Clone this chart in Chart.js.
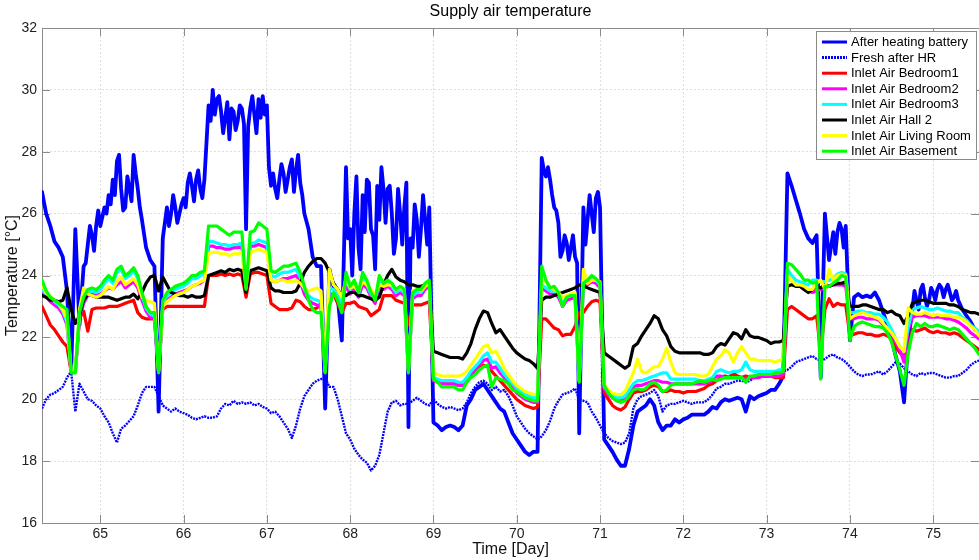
<!DOCTYPE html>
<html>
<head>
<meta charset="utf-8">
<script src="https://cdn.jsdelivr.net/npm/chart.js@4/dist/chart.umd.min.js"></script>
<style>
  html, body { margin: 0; padding: 0; background: #fff; }
  #wrap { width: 979px; height: 560px; }
</style>
</head>
<body>
<div id="wrap"><canvas id="c" width="979" height="560"></canvas></div>
<script>
// Sample times in days, every 0.05 day from 64.30 to 75.55
const days = Array.from({ length: 226 }, (_, i) => +(64.3 + i * 0.05).toFixed(2));

// Supply air temperatures [°C] at each sample time
const afterHeatingBattery = [
  26.7, 26.0, 25.6, 25.1, 24.9, 24.6, 23.5, 20.9, 25.5, 22.4, 24.3, 25.0, 25.3, 25.6,
  25.6, 26.2, 26.6, 27.1, 27.7, 26.8, 26.2, 26.8, 27.9, 26.8, 25.8, 24.9, 24.5, 24.3, 19.6, 25.2, 26.2, 26.0, 26.2, 26.0,
  26.5, 27.0, 26.9, 27.1, 26.8, 27.1, 29.5, 30.0, 29.7, 29.3, 29.1, 28.4, 29.3, 29.0, 29.4, 25.5, 29.4, 29.2, 29.7, 29.8,
  29.5, 26.9, 26.8, 27.1, 27.3, 27.1, 27.75, 27.4, 27.0, 26.0, 25.5, 24.6, 24.3, 24.3, 19.7, 24.2, 23.65, 23.3, 21.9, 27.5,
  25.5, 26.0, 24.9, 26.6, 27.1, 25.5, 24.2, 25.8, 26.8, 26.8, 26.0, 25.2, 26.0, 26.2, 19.1, 24.9, 25.8, 25.5, 25.8, 26.2,
  19.25, 19.15, 19.0, 19.1, 19.15, 19.1, 19.0, 19.15, 19.8, 20.0, 20.3, 20.4, 20.5, 20.3, 20.1, 19.9, 19.7, 19.6, 19.25, 18.9,
  18.7, 18.5, 18.3, 18.2, 18.3, 18.3, 27.8, 27.2, 27.1, 26.2, 25.7, 24.8, 25.05, 24.9, 24.6, 18.9, 26.2, 25.8, 26.0, 26.5,
  26.2, 18.7, 18.5, 18.3, 18.05, 17.85, 17.85, 18.4, 19.15, 19.6, 19.7, 19.8, 20.0, 19.8, 19.25, 19.0, 19.15, 19.15, 19.35, 19.25,
  19.35, 19.4, 19.5, 19.5, 19.5, 19.5, 19.6, 19.75, 19.7, 19.9, 20.0, 19.95, 20.0, 20.05, 20.0, 19.6, 20.1, 20.0, 20.1, 20.15,
  20.2, 20.3, 20.3, 20.5, 20.75, 27.3, 26.9, 26.45, 26.0, 25.5, 25.2, 25.05, 25.3, 20.7, 26.0, 24.5, 25.4, 25.4, 25.5, 25.6,
  21.9, 23.3, 23.4, 23.3, 23.35, 23.3, 23.45, 23.2, 22.8, 22.4, 21.95, 21.4, 20.9, 19.9, 21.9, 22.9, 23.2, 23.55, 23.3, 23.2,
  23.45, 23.55, 23.6, 23.55, 23.45, 23.3, 23.2, 22.9, 22.7, 22.5, 22.25, 22.15
];

// Extra readings of the heating-battery temperature where it fluctuates quickly
const batteryExtraDays = [
  64.825, 64.875, 64.925, 64.975,
  65.025, 65.075, 65.125, 65.175, 65.225, 65.275, 65.325, 65.375, 65.425, 65.475,
  65.825, 65.875, 65.925, 65.975, 66.025, 66.075, 66.125, 66.175, 66.225,
  66.325, 66.375, 66.425, 66.475, 66.525, 66.575, 66.625, 66.675, 66.725, 66.775, 66.825, 66.875, 66.925, 66.975,
  67.025, 67.075, 67.125, 67.175, 67.225, 67.275, 67.325, 67.375, 67.425,
  67.975, 68.025, 68.075, 68.125, 68.175, 68.225, 68.275, 68.325,
  68.375, 68.425, 68.475, 68.525, 68.575, 68.625, 68.675, 68.725, 68.775, 68.825, 68.875, 68.925,
  70.325, 70.375, 70.425, 70.475, 70.525, 70.575, 70.625, 70.675, 70.725, 70.825, 70.875, 70.925, 70.975,
  73.825, 73.875, 73.925,
  74.775, 74.825, 74.875, 74.925, 74.975, 75.025, 75.075, 75.125, 75.175, 75.225, 75.275
];
const batteryExtraTemps = [
  24.4, 25.6, 24.8, 26.1,
  25.9, 26.0, 26.3, 26.6, 27.9, 26.1, 27.2, 26.4, 27.3, 26.2,
  25.6, 26.6, 25.7, 26.3, 26.2, 27.3, 26.4, 27.4, 26.5,
  29.0, 29.2, 29.8, 28.6, 29.6, 29.4, 28.7, 29.5, 28.9, 28.8, 29.8, 28.6, 29.1, 29.2,
  27.5, 27.3, 26.5, 27.6, 26.7, 27.5, 26.7, 27.9, 26.6,
  25.2, 24.0, 27.2, 24.2, 25.4, 27.0, 25.3, 26.9,
  27.5, 25.7, 26.9, 24.7, 26.8, 25.0, 27.0, 25.2, 26.3, 24.6, 26.6, 25.0,
  27.4, 27.5, 26.6, 26.1, 24.6, 25.3, 24.5, 25.3, 24.4, 25.0, 26.6, 25.4, 26.7,
  24.7, 25.7, 24.9,
  23.5, 22.9, 23.7, 23.0, 23.6, 23.2, 23.7, 23.3, 23.7, 23.2, 23.5
];

const freshAfterHR = [
  19.7, 20.0, 20.15, 20.2, 20.3, 20.4, 20.7, 20.9, 19.6, 20.5, 20.25, 20.0, 19.95, 19.8,
  19.7, 19.45, 19.25, 18.9, 18.6, 19.05, 19.15, 19.3, 19.45, 19.8, 20.2, 20.4, 20.4, 20.4, 20.1, 19.8, 19.7, 19.6, 19.7, 19.6,
  19.55, 19.5, 19.4, 19.35, 19.4, 19.45, 19.4, 19.4, 19.45, 19.7, 19.85, 19.8, 19.95, 19.85, 19.9, 19.85, 19.9, 19.8, 19.85, 19.75,
  19.7, 19.55, 19.6, 19.45, 19.25, 19.05, 18.75, 19.15, 19.7, 20.1, 20.3, 20.5, 20.6, 20.65, 20.7, 20.4, 20.4, 20.0, 19.45, 18.9,
  18.7, 18.4, 18.2, 18.05, 17.95, 17.7, 17.85, 18.2, 18.9, 19.6, 19.9, 19.95, 19.8, 19.85, 19.85, 19.95, 20.05, 19.95, 19.85, 19.8,
  20.0, 19.85, 19.75, 19.7, 19.75, 19.7, 19.65, 19.7, 19.9, 20.2, 20.4, 20.55, 20.6, 20.5, 20.3, 20.4, 20.25, 20.3, 20.1, 19.8,
  19.45, 19.25, 19.05, 18.9, 18.8, 18.7, 18.8, 19.0, 19.3, 19.7, 19.95, 20.15, 20.2, 20.25, 20.35, 20.0, 19.95, 19.9, 19.6, 19.4,
  19.15, 18.9, 18.75, 18.65, 18.6, 18.55, 18.6, 18.9, 19.7, 20.0, 20.1, 20.15, 20.2, 20.3, 20.1, 19.6, 19.8, 19.85, 19.85, 19.9,
  19.95, 19.9, 19.85, 19.9, 19.9, 19.9, 20.0, 20.15, 20.35, 20.4, 20.5, 20.5, 20.55, 20.6, 20.6, 20.55, 20.6, 20.7, 20.7, 20.75,
  20.75, 20.8, 20.85, 20.85, 20.9, 20.95, 21.05, 21.2, 21.25, 21.3, 21.35, 21.4, 21.3, 21.25, 21.3, 21.4, 21.45, 21.35, 21.3, 21.2,
  21.05, 20.9, 20.8, 20.75, 20.8, 20.8, 20.85, 20.9, 20.8, 20.9, 21.05, 21.2, 21.15, 21.0, 20.9, 20.8, 20.75, 20.85, 20.8, 20.85,
  20.85, 20.8, 20.75, 20.7, 20.7, 20.75, 20.75, 20.85, 20.95, 21.1, 21.2, 21.25
];

const bedroom1 = [
  23.0, 22.7, 22.4, 22.25, 22.05, 21.85, 21.7, 20.9, 20.9, 22.6, 22.85, 22.2, 22.9, 22.95,
  22.95, 22.95, 23.0, 23.0, 23.0, 23.05, 23.1, 23.15, 23.2, 22.8, 22.65, 22.6, 22.6, 22.6, 20.9, 22.9, 23.0, 23.0, 23.0, 23.0,
  23.0, 23.0, 23.0, 23.0, 23.0, 23.0, 24.0, 24.0, 24.0, 24.05, 24.0, 24.05, 24.0, 24.05, 24.0, 23.3, 24.05, 24.1, 24.1, 24.05,
  24.0, 23.1, 23.0, 22.9, 22.9, 22.9, 22.95, 23.2, 23.15, 23.0, 22.9, 22.9, 22.95, 23.1, 20.9, 23.3, 23.4, 23.1, 22.8, 23.1,
  23.1, 23.15, 23.0, 22.95, 22.9, 22.7, 22.8, 22.9, 23.35, 23.35, 23.35, 23.2, 23.15, 23.1, 22.4, 23.05, 23.05, 23.05, 23.1, 23.15,
  20.6, 20.6, 20.55, 20.5, 20.5, 20.5, 20.45, 20.5, 20.6, 20.75, 20.9, 21.0, 21.1, 21.05, 20.9, 20.75, 20.6, 20.45, 20.3, 20.15,
  20.0, 19.9, 19.8, 19.75, 19.7, 19.75, 22.6, 22.6, 22.45, 22.3, 22.25, 22.05, 22.1, 22.1, 22.35, 22.8, 22.8, 23.0, 23.15, 23.2,
  23.15, 20.2, 20.0, 19.8, 19.7, 19.65, 19.75, 20.0, 20.2, 20.25, 20.25, 20.3, 20.4, 20.45, 20.4, 20.25, 20.25, 20.3, 20.25, 20.25,
  20.2, 20.25, 20.25, 20.25, 20.3, 20.35, 20.45, 20.5, 20.6, 20.7, 20.75, 20.7, 20.85, 20.75, 20.7, 20.75, 20.7, 20.75, 20.7, 20.75,
  20.75, 20.75, 20.7, 20.7, 20.7, 22.9, 23.0, 22.9, 22.8, 22.7, 22.6, 22.6, 22.7, 21.5, 22.9, 23.25, 23.0, 23.1, 23.05, 23.05,
  22.05, 22.1, 22.15, 22.15, 22.1, 22.1, 22.05, 22.05, 22.1, 22.05, 21.95, 21.7, 21.5, 21.4, 21.6, 22.25, 22.2, 22.25, 22.3, 22.2,
  22.15, 22.2, 22.15, 22.15, 22.1, 22.15, 22.1, 22.0, 21.9, 21.8, 21.7, 21.6
];

const bedroom2 = [
  23.45, 23.3, 23.15, 23.05, 22.95, 22.75, 22.4, 20.9, 20.9, 22.6, 23.1, 23.35, 23.4, 23.35,
  23.4, 23.5, 23.6, 23.55, 23.7, 23.8, 23.6, 23.7, 23.8, 23.6, 23.2, 22.85, 22.65, 22.6, 20.9, 23.0, 23.2, 23.3, 23.4, 23.45,
  23.5, 23.55, 23.65, 23.7, 23.75, 23.85, 24.95, 24.95, 24.9, 24.9, 24.85, 24.85, 24.9, 24.9, 24.95, 23.5, 24.95, 24.95, 25.0, 24.95,
  24.9, 23.85, 23.8, 23.85, 23.9, 23.9, 23.95, 24.0, 23.8, 23.4, 23.2, 23.1, 23.05, 23.0, 20.9, 23.4, 23.4, 23.3, 23.0, 23.7,
  23.4, 23.55, 23.3, 23.7, 23.6, 23.3, 23.1, 23.7, 23.55, 23.65, 23.55, 23.35, 23.45, 23.35, 20.9, 23.25, 23.35, 23.35, 23.55, 23.65,
  20.6, 20.55, 20.5, 20.5, 20.5, 20.5, 20.45, 20.45, 20.6, 20.8, 20.95, 21.1, 21.25, 21.3, 21.0, 21.05, 20.85, 20.7, 20.55, 20.4,
  20.2, 20.1, 20.0, 19.95, 19.9, 19.9, 23.6, 23.5, 23.4, 23.4, 23.3, 23.0, 23.2, 23.25, 23.3, 20.6, 23.7, 23.7, 23.8, 23.75,
  23.6, 20.35, 20.15, 20.05, 19.95, 19.95, 20.0, 20.2, 20.4, 20.45, 20.45, 20.5, 20.55, 20.6, 20.6, 20.55, 20.55, 20.5, 20.5, 20.5,
  20.5, 20.5, 20.5, 20.5, 20.5, 20.5, 20.55, 20.6, 20.75, 20.75, 20.7, 20.7, 20.7, 20.7, 20.7, 20.65, 20.7, 20.7, 20.7, 20.75,
  20.75, 20.75, 20.75, 20.75, 20.8, 24.0, 23.85, 23.7, 23.65, 23.55, 23.5, 23.45, 23.5, 23.55, 23.6, 23.65, 23.7, 23.7, 23.7, 23.65,
  22.6, 22.6, 22.65, 22.65, 22.6, 22.6, 22.6, 22.55, 22.4, 22.3, 22.1, 21.85, 21.6, 21.2, 22.25, 22.65, 22.7, 22.7, 22.7, 22.65,
  22.65, 22.65, 22.65, 22.6, 22.6, 22.55, 22.5, 22.4, 22.3, 22.15, 22.05, 21.95
];

const bedroom3 = [
  23.55, 23.4, 23.25, 23.15, 23.05, 22.85, 22.5, 20.9, 20.9, 22.7, 23.2, 23.45, 23.5, 23.45,
  23.55, 23.75, 23.9, 23.75, 24.1, 24.2, 23.9, 24.0, 24.15, 23.9, 23.35, 22.95, 22.75, 22.7, 20.9, 23.1, 23.35, 23.45, 23.55, 23.6,
  23.65, 23.75, 23.9, 23.9, 24.0, 24.05, 25.1, 25.1, 25.05, 25.0, 25.0, 24.95, 25.0, 25.0, 25.05, 23.55, 25.05, 25.05, 25.15, 25.1,
  25.05, 24.0, 23.95, 24.05, 24.1, 24.1, 24.15, 24.2, 23.95, 23.55, 23.35, 23.25, 23.2, 23.15, 20.9, 23.6, 23.55, 23.4, 23.1, 23.9,
  23.55, 23.7, 23.4, 23.9, 23.7, 23.4, 23.2, 23.8, 23.65, 23.75, 23.65, 23.45, 23.55, 23.45, 20.9, 23.35, 23.45, 23.45, 23.65, 23.75,
  20.7, 20.65, 20.6, 20.6, 20.6, 20.6, 20.55, 20.55, 20.7, 20.9, 21.05, 21.2, 21.4, 21.5, 21.2, 21.2, 21.0, 20.8, 20.65, 20.5,
  20.35, 20.25, 20.15, 20.1, 20.05, 20.05, 23.7, 23.6, 23.5, 23.5, 23.4, 23.1, 23.3, 23.35, 23.4, 20.6, 23.85, 23.8, 23.9, 23.85,
  23.7, 20.4, 20.25, 20.15, 20.05, 20.05, 20.1, 20.3, 20.5, 20.6, 20.6, 20.65, 20.7, 20.75, 20.8, 20.85, 20.85, 20.65, 20.65, 20.65,
  20.65, 20.65, 20.65, 20.65, 20.6, 20.6, 20.65, 20.7, 20.9, 20.95, 20.9, 20.85, 20.9, 20.9, 20.95, 21.2, 20.95, 20.9, 20.9, 20.9,
  20.9, 20.9, 20.9, 20.95, 20.95, 24.2, 24.0, 23.85, 23.8, 23.75, 23.7, 23.85, 23.85, 23.8, 23.8, 23.85, 23.9, 24.05, 24.1, 24.05,
  22.8, 22.8, 22.85, 22.85, 22.8, 22.8, 22.75, 22.75, 22.65, 22.5, 22.25, 21.95, 21.7, 21.55, 22.35, 22.9, 22.95, 23.0, 22.95, 22.9,
  22.9, 22.95, 22.9, 22.85, 22.85, 22.8, 22.8, 22.65, 22.55, 22.4, 22.3, 22.2
];

const hall2 = [
  23.35, 23.3, 23.2, 23.2, 23.15, 23.2, 23.6, 22.9, 22.45, 22.7, 23.2, 23.4, 23.35, 23.3,
  23.3, 23.3, 23.3, 23.25, 23.2, 23.25, 23.3, 23.3, 23.4, 23.25, 23.45, 23.75, 23.95, 24.0, 23.5, 23.95, 23.7, 23.45, 23.4, 23.35,
  23.35, 23.3, 23.35, 23.3, 23.3, 23.35, 24.0, 24.05, 24.1, 24.15, 24.1, 24.2, 24.15, 24.2, 24.15, 23.45, 24.15, 24.2, 24.25, 24.2,
  24.15, 23.6, 23.5, 23.5, 23.45, 23.45, 23.45, 23.5, 23.75, 24.1, 24.3, 24.45, 24.55, 24.55, 24.4, 24.1, 23.75, 23.55, 23.35, 23.35,
  23.45, 23.45, 23.35, 23.35, 23.3, 23.25, 23.2, 23.3, 23.7, 24.0, 24.2, 23.95, 23.85, 23.8, 23.7, 23.7, 23.65, 23.65, 23.7, 23.75,
  21.55, 21.5, 21.45, 21.4, 21.35, 21.35, 21.35, 21.3, 21.5, 21.8, 22.25, 22.6, 22.85, 22.8, 22.45, 22.15, 22.25, 22.05, 21.85, 21.65,
  21.5, 21.4, 21.3, 21.25, 21.15, 21.0, 23.2, 23.3, 23.3, 23.35, 23.4, 23.45, 23.5, 23.55, 23.6, 23.7, 23.65, 23.6, 23.55, 23.5,
  23.45, 21.5, 21.4, 21.3, 21.2, 21.1, 21.0, 21.1, 21.7, 21.8, 22.05, 22.25, 22.45, 22.7, 22.6, 22.25, 22.05, 21.7, 21.55, 21.5,
  21.5, 21.5, 21.5, 21.5, 21.5, 21.45, 21.45, 21.5, 21.7, 21.8, 21.75, 21.95, 22.15, 22.1, 21.95, 22.25, 22.05, 22.0, 22.0, 21.95,
  21.9, 21.8, 21.85, 21.85, 21.9, 23.65, 23.7, 23.65, 23.65, 23.55, 23.45, 23.55, 23.65, 23.6, 23.7, 23.65, 23.7, 23.75, 23.75, 23.8,
  23.0, 23.0, 23.0, 23.05, 23.05, 23.0, 22.95, 22.9, 22.9, 22.8, 22.85, 22.75, 22.7, 22.45, 22.7, 23.1, 23.15, 23.2, 23.2, 23.15,
  23.1, 23.1, 23.1, 23.1, 23.05, 23.05, 23.0, 22.9, 22.85, 22.8, 22.8, 22.75
];

const livingRoom = [
  23.7, 23.45, 23.3, 23.2, 23.1, 22.9, 22.6, 20.9, 20.9, 22.9, 23.6, 23.4, 23.35, 23.3,
  23.35, 23.5, 23.65, 23.55, 23.8, 23.95, 23.7, 23.8, 23.9, 23.7, 23.3, 23.2, 23.15, 23.1, 20.9, 23.0, 23.15, 23.25, 23.35, 23.4,
  23.45, 23.55, 23.65, 23.7, 23.8, 23.85, 24.7, 24.75, 24.75, 24.7, 24.7, 24.65, 24.7, 24.7, 24.75, 23.6, 24.75, 24.8, 24.85, 24.8,
  24.75, 23.85, 23.8, 23.85, 23.85, 23.8, 23.8, 23.85, 23.75, 23.6, 23.5, 23.55, 23.6, 23.5, 20.9, 24.2, 23.7, 23.55, 23.3, 23.9,
  23.6, 23.65, 23.5, 23.8, 23.7, 23.55, 23.4, 23.7, 23.65, 23.7, 23.7, 23.55, 23.6, 23.55, 20.9, 23.5, 23.55, 23.5, 23.65, 23.75,
  20.85, 20.8, 20.75, 20.75, 20.75, 20.75, 20.75, 20.8, 20.9, 21.1, 21.3, 21.5, 21.7, 21.75, 21.5, 21.55, 21.3, 21.0, 20.8, 20.6,
  20.45, 20.35, 20.25, 20.2, 20.15, 20.15, 23.9, 23.8, 23.6, 23.55, 23.45, 23.3, 23.35, 23.4, 23.45, 20.6, 24.2, 23.75, 23.85, 23.85,
  23.8, 20.5, 20.3, 20.2, 20.15, 20.15, 20.25, 20.55, 20.85, 21.3, 20.9, 20.85, 20.95, 21.05, 21.05, 21.3, 21.65, 21.2, 20.85, 20.8,
  20.8, 20.8, 20.8, 20.8, 20.75, 20.75, 20.8, 21.05, 21.3, 21.4, 21.6, 21.5, 21.2, 21.5, 21.7, 21.5, 21.3, 21.3, 21.25, 21.25,
  21.25, 21.25, 21.2, 21.25, 21.3, 24.0, 23.85, 23.7, 23.7, 23.65, 23.55, 23.55, 23.75, 23.85, 23.55, 24.2, 23.85, 24.0, 24.05, 24.0,
  22.6, 22.7, 22.75, 22.8, 22.75, 22.7, 22.65, 22.6, 22.45, 22.3, 22.15, 21.95, 21.7, 21.55, 22.95, 22.8, 22.75, 22.75, 22.8, 22.75,
  22.7, 22.75, 22.7, 22.7, 22.7, 22.65, 22.65, 22.6, 22.5, 22.35, 22.25, 22.05
];

const basement = [
  23.85, 23.5, 23.3, 23.2, 23.1, 23.0, 22.9, 20.85, 20.85, 22.8, 23.3, 23.55, 23.6, 23.55,
  23.65, 23.85, 24.0, 23.85, 24.2, 24.3, 24.0, 24.1, 24.25, 24.0, 23.45, 23.0, 22.8, 22.8, 20.85, 23.2, 23.45, 23.55, 23.65, 23.7,
  23.75, 23.85, 24.0, 24.0, 24.1, 24.15, 25.6, 25.6, 25.6, 25.5, 25.4, 25.3, 25.4, 25.4, 25.4, 23.55, 25.4, 25.45, 25.7, 25.6,
  25.5, 24.15, 24.1, 24.2, 24.3, 24.3, 24.35, 24.4, 24.1, 23.65, 23.2, 22.9, 22.8, 22.8, 20.85, 23.0, 23.45, 23.2, 22.8, 24.1,
  23.65, 23.85, 23.45, 24.1, 23.85, 23.45, 23.2, 24.0, 23.75, 23.85, 23.75, 23.55, 23.65, 23.55, 20.85, 23.45, 23.55, 23.55, 23.75, 23.85,
  20.65, 20.55, 20.4, 20.4, 20.4, 20.4, 20.3, 20.3, 20.55, 20.7, 20.8, 20.95, 21.05, 21.1, 20.4, 20.7, 20.65, 20.6, 20.5, 20.3,
  20.25, 20.15, 20.05, 20.0, 19.95, 19.95, 24.3, 23.85, 23.6, 23.65, 23.45, 23.0, 23.3, 23.35, 23.35, 20.55, 23.75, 23.85, 24.0, 23.9,
  23.75, 20.45, 20.2, 20.05, 19.95, 19.9, 19.95, 20.1, 20.3, 20.35, 20.3, 20.35, 20.5, 20.55, 20.45, 20.25, 20.3, 20.45, 20.5, 20.5,
  20.5, 20.5, 20.5, 20.55, 20.6, 20.55, 20.6, 20.65, 20.6, 20.65, 20.7, 20.7, 20.7, 20.7, 20.7, 20.55, 20.75, 20.75, 20.8, 20.8,
  20.8, 20.8, 20.85, 20.85, 20.9, 24.4, 24.35, 24.2, 24.05, 23.85, 23.85, 23.75, 23.8, 20.65, 23.65, 23.65, 23.75, 23.85, 24.0, 23.95,
  21.9, 22.35, 22.45, 22.5, 22.45, 22.4, 22.35, 22.35, 22.3, 22.15, 21.85, 21.4, 20.95, 20.45, 21.5, 22.15, 22.45, 22.35, 22.45, 22.35,
  22.35, 22.4, 22.35, 22.3, 22.25, 22.3, 22.25, 22.1, 21.95, 21.8, 21.65, 21.45
];

// Axis tick values
const dayTicks = [65, 66, 67, 68, 69, 70, 71, 72, 73, 74, 75];
const tempTicks = [16, 18, 20, 22, 24, 26, 28, 30, 32];

const FONT = "'Liberation Sans', Arial, Helvetica, sans-serif";

const toPoints = (xs, ys) => xs.map((d, k) => ({ x: d, y: ys[k] }));

const batteryPoints = toPoints(days, afterHeatingBattery)
  .concat(toPoints(batteryExtraDays, batteryExtraTemps))
  .sort((a, b) => a.x - b.x);

const seriesDefs = [
  { label: 'After heating battery', points: batteryPoints,                  color: '#0000ff', width: 3.8, dash: [] },
  { label: 'Fresh after HR',        points: toPoints(days, freshAfterHR),   color: '#0000ff', width: 2.4, dash: [2, 1] },
  { label: 'Inlet Air Bedroom1',    points: toPoints(days, bedroom1),       color: '#ff0000', width: 3.2, dash: [] },
  { label: 'Inlet Air Bedroom2',    points: toPoints(days, bedroom2),       color: '#ff00ff', width: 3.2, dash: [] },
  { label: 'Inlet Air Bedroom3',    points: toPoints(days, bedroom3),       color: '#00ffff', width: 3.2, dash: [] },
  { label: 'Inlet Air Hall 2',      points: toPoints(days, hall2),          color: '#000000', width: 3.2, dash: [] },
  { label: 'Inlet Air Living Room', points: toPoints(days, livingRoom),     color: '#ffff00', width: 3.2, dash: [] },
  { label: 'Inlet Air Basement',    points: toPoints(days, basement),       color: '#00ff00', width: 3.2, dash: [] }
];

const datasets = seriesDefs.map((s, i) => ({
  label: s.label,
  data: s.points,
  borderColor: s.color,
  backgroundColor: s.color,
  borderWidth: s.width,
  borderDash: s.dash,
  borderJoinStyle: 'round',
  borderCapStyle: s.dash.length ? 'butt' : 'round',
  pointRadius: 0,
  fill: false,
  tension: 0,
  // later series are painted over earlier ones
  order: seriesDefs.length - i
}));

// Box around the plot area with inward tick marks, plus the centred title
const framePlugin = {
  id: 'frame',
  beforeDatasetsDraw(chart) {
    const { ctx, chartArea: a, scales: { x, y } } = chart;
    ctx.save();
    ctx.strokeStyle = '#8a8a8a';
    ctx.lineWidth = 1;
    ctx.beginPath();
    ctx.moveTo(a.left + 0.5, a.bottom + 0.5);
    ctx.lineTo(a.left + 0.5, a.top + 0.5);
    ctx.lineTo(a.right + 0.5, a.top + 0.5);
    ctx.moveTo(a.left + 0.5, a.bottom + 0.5);
    ctx.lineTo(a.right + 0.5, a.bottom + 0.5);
    ctx.lineTo(a.right + 0.5, a.top + 0.5);
    const tl = 8;
    dayTicks.forEach(v => {
      const px = Math.round(x.getPixelForValue(v)) + 0.5;
      ctx.moveTo(px, a.bottom); ctx.lineTo(px, a.bottom - tl);
      ctx.moveTo(px, a.top); ctx.lineTo(px, a.top + tl);
    });
    tempTicks.forEach(v => {
      const py = Math.round(y.getPixelForValue(v)) + 0.5;
      ctx.moveTo(a.left, py); ctx.lineTo(a.left + tl, py);
      ctx.moveTo(a.right, py); ctx.lineTo(a.right - tl, py);
    });
    ctx.stroke();
    ctx.restore();
  },
  afterDraw(chart) {
    const { ctx, chartArea: a } = chart;
    ctx.save();
    ctx.fillStyle = '#000';
    ctx.font = '16px ' + FONT;
    ctx.textAlign = 'center';
    ctx.textBaseline = 'middle';
    ctx.fillText('Supply air temperature', (a.left + a.right) / 2, 12);
    ctx.restore();
  }
};

// Legend box in the upper right corner of the plot area
const legendPlugin = {
  id: 'cornerLegend',
  afterDraw(chart) {
    const { ctx, chartArea: a } = chart;
    const w = 160, rowH = 15.6, padTop = 11, h = 128;
    const x0 = a.right - 3 - w, y0 = a.top + 3;
    ctx.save();
    ctx.fillStyle = '#fff';
    ctx.fillRect(x0, y0, w, h);
    ctx.strokeStyle = '#8a8a8a';
    ctx.lineWidth = 1;
    ctx.strokeRect(Math.round(x0) + 0.5, Math.round(y0) + 0.5, w, h);
    ctx.font = '13px ' + FONT;
    ctx.textBaseline = 'middle';
    ctx.textAlign = 'left';
    chart.data.datasets.forEach((ds, i) => {
      const yy = y0 + padTop + i * rowH;
      ctx.beginPath();
      ctx.strokeStyle = ds.borderColor;
      ctx.lineWidth = 3;
      ctx.setLineDash(ds.borderDash && ds.borderDash.length ? [2, 1] : []);
      ctx.moveTo(x0 + 6, yy);
      ctx.lineTo(x0 + 31, yy);
      ctx.stroke();
      ctx.setLineDash([]);
      ctx.fillStyle = '#000';
      ctx.fillText(ds.label, x0 + 35, yy + 0.5);
    });
    ctx.restore();
  }
};

new Chart(document.getElementById('c'), {
  type: 'line',
  data: { datasets },
  options: {
    responsive: false,
    animation: false,
    events: [],
    layout: { padding: { top: 28, right: 0, bottom: 0, left: 0 } },
    plugins: {
      legend: { display: false },
      tooltip: { enabled: false },
      title: { display: false }
    },
    scales: {
      x: {
        type: 'linear',
        min: 64.3,
        max: 75.55,
        afterFit: s => { s.height = 37; },
        afterBuildTicks: s => { s.ticks = dayTicks.map(v => ({ value: v })); },
        ticks: { color: '#222', font: { family: FONT, size: 14 }, padding: 3, maxRotation: 0, autoSkip: false },
        grid: { color: '#dedede', lineWidth: 1, drawTicks: false },
        border: { display: false, dash: [2, 2] },
        title: { display: true, text: 'Time [Day]', color: '#111', font: { family: FONT, size: 16 }, padding: { top: 0, bottom: 1 } }
      },
      y: {
        type: 'linear',
        min: 16,
        max: 32,
        afterFit: s => { s.width = 42; },
        afterBuildTicks: s => { s.ticks = tempTicks.map(v => ({ value: v })); },
        ticks: { color: '#222', font: { family: FONT, size: 14 }, padding: 5, autoSkip: false },
        grid: { color: '#dedede', lineWidth: 1, drawTicks: false },
        border: { display: false, dash: [2, 2] },
        title: { display: true, text: 'Temperature [°C]', color: '#111', font: { family: FONT, size: 16 }, padding: { top: 3, bottom: 0 } }
      }
    }
  },
  plugins: [framePlugin, legendPlugin]
});
</script>
</body>
</html>
